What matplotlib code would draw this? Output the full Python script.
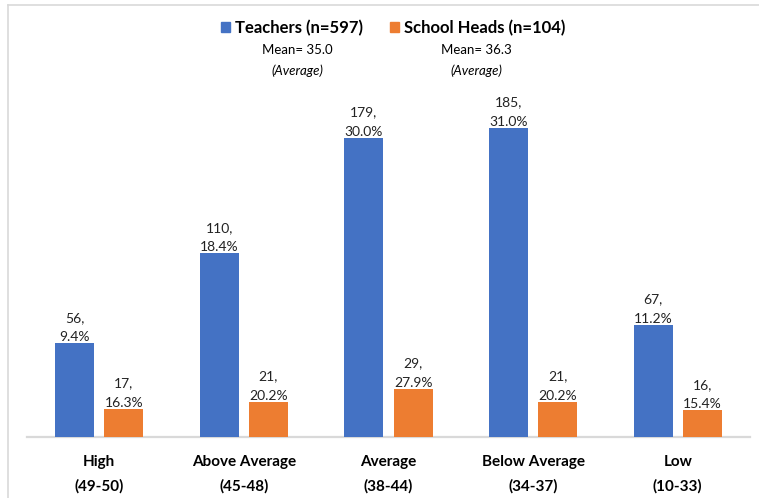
import numpy as np
import matplotlib.pyplot as plt
from matplotlib.patches import Patch
from matplotlib.lines import Line2D

categories = ["High\n(49-50)", "Above Average\n(45-48)", "Average\n(38-44)",
              "Below Average\n(34-37)", "Low\n(10-33)"]
teachers_n = [56, 110, 179, 185, 67]
teachers_pct = [9.4, 18.4, 30.0, 31.0, 11.2]
heads_n = [17, 21, 29, 21, 16]
heads_pct = [16.3, 20.2, 27.9, 20.2, 15.4]

blue = "#4472C4"
orange = "#ED7D31"
plt.rcParams["font.family"] = ["Lato", "DejaVu Sans"]

fig = plt.figure(figsize=(7.59, 4.98), dpi=100)
ax = fig.add_axes([27 / 759, 61 / 498, 723 / 759, 334 / 498])

x = np.arange(len(categories))
w = 0.27
off = 0.17
ax.bar(x - off, teachers_n, w, color=blue, zorder=3)
ax.bar(x + off, heads_n, w, color=orange, zorder=3)

for i in range(len(categories)):
    ax.annotate(f"{teachers_n[i]},\n{teachers_pct[i]:.1f}%", (x[i] - off, teachers_n[i]),
                xytext=(0, 0), textcoords="offset points", ha="center", va="bottom",
                fontsize=10, linespacing=1.75, color="#222222")
    ax.annotate(f"{heads_n[i]},\n{heads_pct[i]:.1f}%", (x[i] + off, heads_n[i]),
                xytext=(0, 0), textcoords="offset points", ha="center", va="bottom",
                fontsize=10, linespacing=1.75, color="#222222")

ax.set_xlim(-0.5, len(categories) - 0.5)
ax.set_ylim(0, 200)
ax.set_xticks(x)
ax.set_xticklabels(categories, fontsize=11, fontweight="bold", linespacing=1.9)
ax.tick_params(axis="x", length=0, pad=13)
ax.set_yticks([])
for s in ["top", "right", "left"]:
    ax.spines[s].set_visible(False)
ax.spines["bottom"].set_color("#D9D9D9")
ax.spines["bottom"].set_linewidth(1.6)

handles = [Patch(color=blue, label="Teachers (n=597)"),
           Patch(color=orange, label="School Heads (n=104)")]
fig.legend(handles=handles, loc="center", bbox_to_anchor=(393 / 759, 1 - 28 / 498),
           ncol=2, frameon=False, prop={"weight": "bold", "size": 12},
           handlelength=0.55, handleheight=0.55, handletextpad=0.3, columnspacing=1.6)

fig.text(297 / 759, 1 - 50 / 498, "Mean= 35.0", ha="center", va="center", fontsize=9.5)
fig.text(297 / 759, 1 - 71 / 498, "(Average)", ha="center", va="center", fontsize=9.5, style="italic")
fig.text(476 / 759, 1 - 50 / 498, "Mean= 36.3", ha="center", va="center", fontsize=9.5)
fig.text(476 / 759, 1 - 71 / 498, "(Average)", ha="center", va="center", fontsize=9.5, style="italic")

# outer frame (only left and top visible in the crop)
fig.add_artist(Line2D([8 / 759, 8 / 759], [0, 1 - 5 / 498], color="#D9D9D9", lw=1.2))
fig.add_artist(Line2D([8 / 759, 1], [1 - 5 / 498, 1 - 5 / 498], color="#D9D9D9", lw=1.2))

fig.savefig("out.png", dpi=100)
